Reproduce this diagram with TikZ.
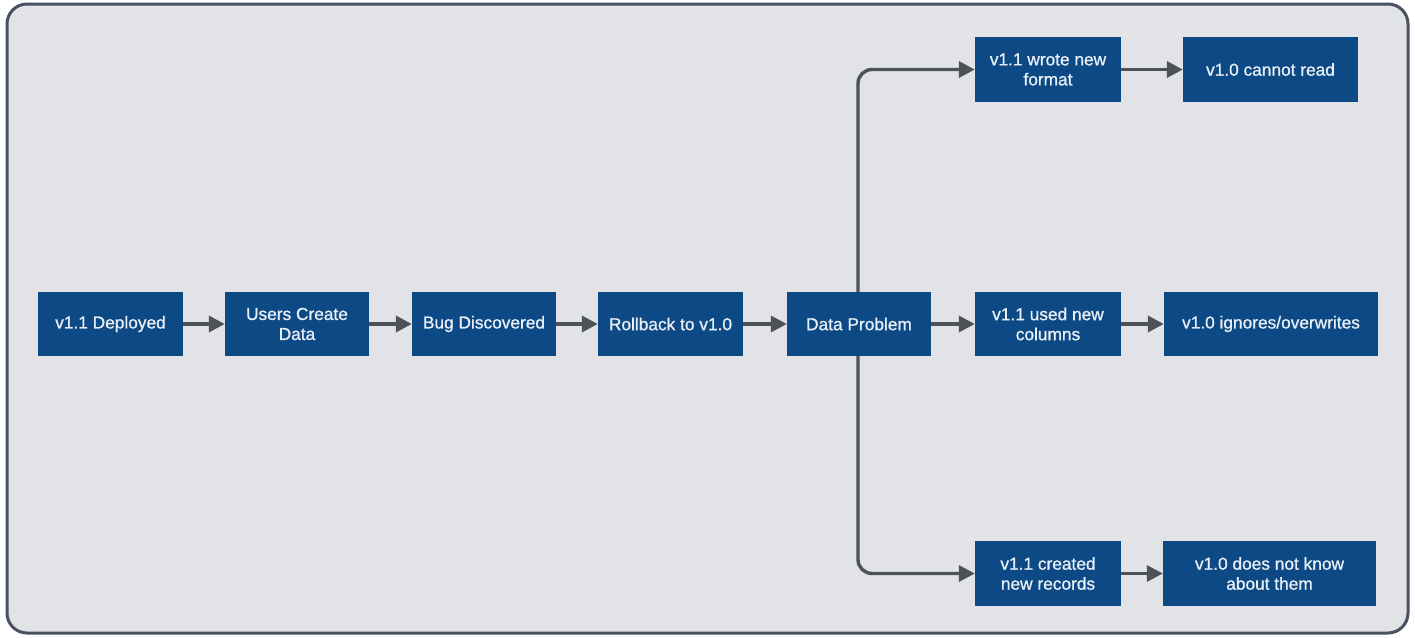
\documentclass[tikz,border=0pt]{standalone}
\usepackage{fontspec}
\setmainfont{Liberation Sans}
\newfontfamily\boxfont[FakeBold=0.9]{Liberation Sans}
\usetikzlibrary{arrows.meta,positioning}
\definecolor{bg}{HTML}{E1E3E6}
\definecolor{frame}{HTML}{4A5261}
\definecolor{boxblue}{HTML}{0D4A85}
\definecolor{txt}{HTML}{E9EFF6}
\definecolor{conn}{HTML}{4D5158}
\tikzset{
  box/.style={draw=none, fill=boxblue, text=txt, align=center, inner sep=0pt,
    font=\boxfont\fontsize{17.3}{20}\selectfont},
  conn/.style={draw=conn, line width=3.4pt, -{Triangle[length=16pt,width=16pt]}, rounded corners=14pt}
}
\newcommand{\bx}[6]{\node[box, minimum width=#4pt-#2pt, minimum height=#5pt-#3pt] (#1) at ({(#2+#4)/2},{(#3+#5)/2}) {#6};}
\begin{document}
\begin{tikzpicture}[x=1pt,y=-1pt]
\useasboundingbox (0,0) rectangle (1415,637);
\draw[fill=bg, draw=frame, line width=3pt, rounded corners=20pt] (7,4) rectangle (1408,633);
\bx{a}{38}{292}{183}{356}{v1.1 Deployed}
\bx{b}{225}{292}{369}{356}{Users Create\\Data}
\bx{c}{412}{292}{556}{356}{Bug Discovered}
\bx{d}{598}{292}{743}{356}{Rollback to v1.0}
\bx{e}{787}{292}{931}{356}{Data Problem}
\bx{f1}{975}{37}{1121}{102}{v1.1 wrote new\\format}
\bx{g1}{1183}{37}{1358}{102}{v1.0 cannot read}
\bx{f2}{975}{292}{1121}{356}{v1.1 used new\\columns}
\bx{g2}{1164}{292}{1378}{356}{v1.0 ignores/overwrites}
\bx{f3}{975}{541}{1121}{606}{v1.1 created\\new records}
\bx{g3}{1163}{541}{1376}{606}{v1.0 does not know\\about them}
\draw[conn] (a) -- (b);
\draw[conn] (b) -- (c);
\draw[conn] (c) -- (d);
\draw[conn] (d) -- (e);
\draw[conn] (e) -- (f2);
\draw[conn] (f1) -- (g1);
\draw[conn] (f2) -- (g2);
\draw[conn] (f3) -- (g3);
\draw[conn] (e.north -| 858,0) |- (f1.west);
\draw[conn] (e.south -| 858,0) |- (f3.west);
\end{tikzpicture}
\end{document}
